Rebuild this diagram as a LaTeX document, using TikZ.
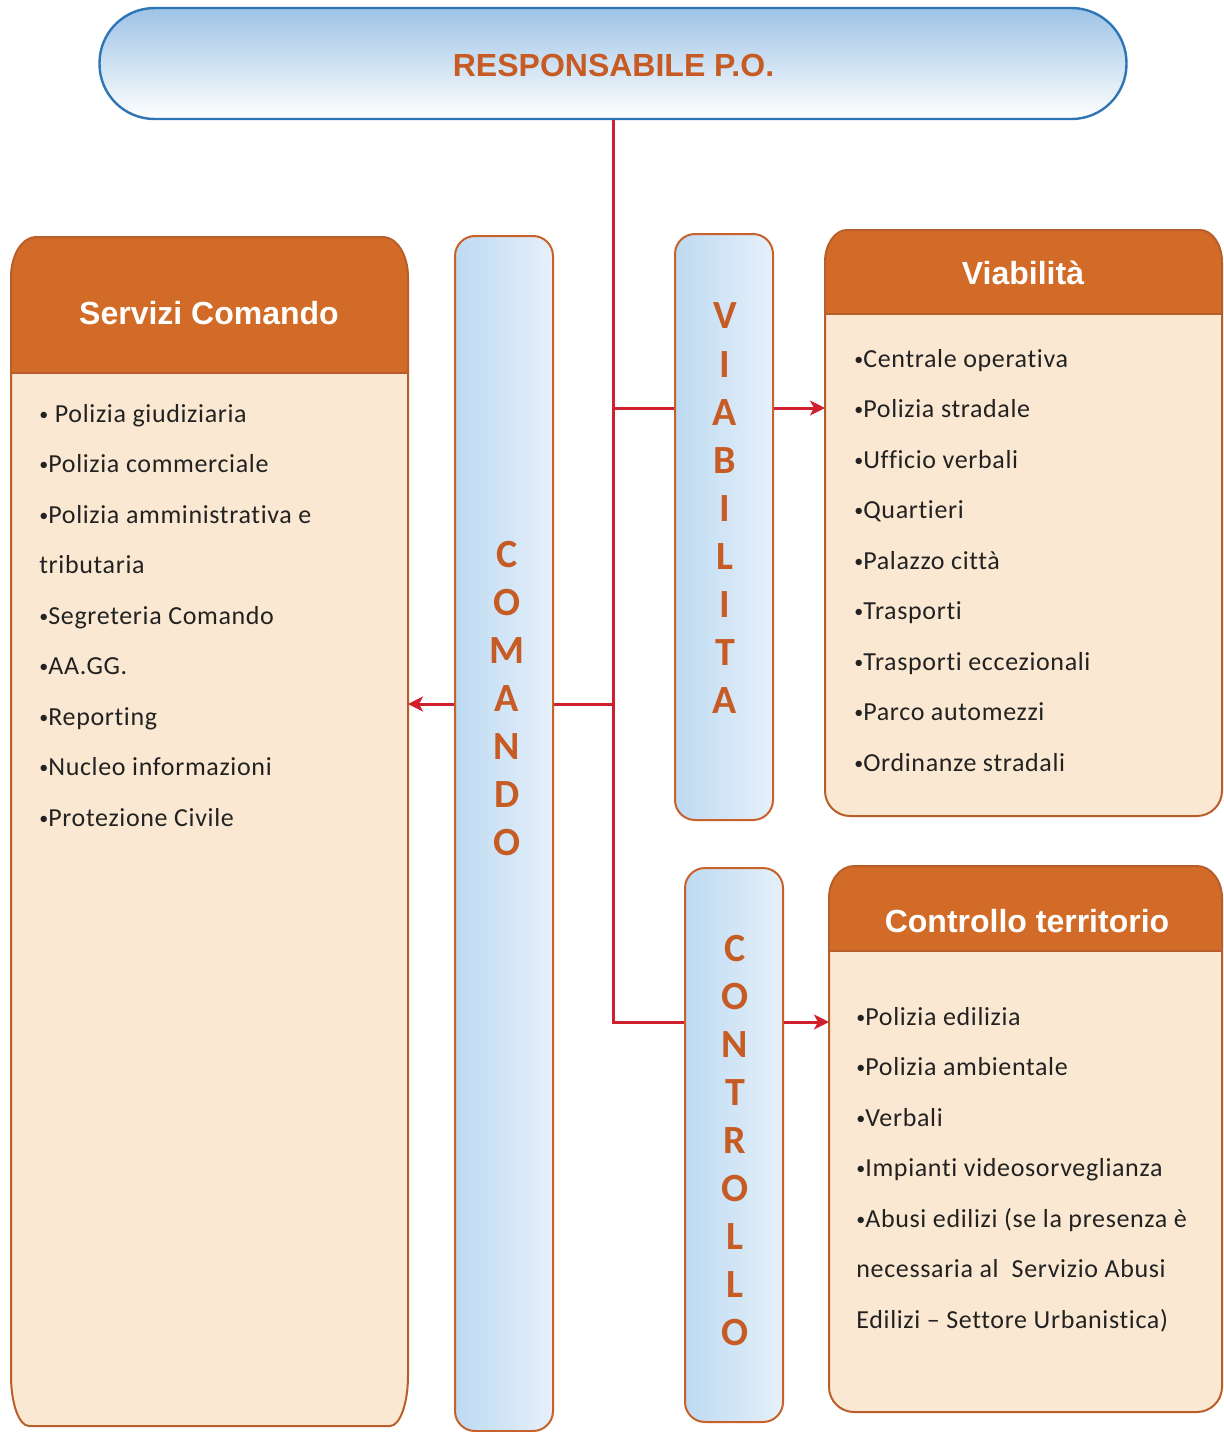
\documentclass[tikz,border=0pt]{standalone}
\usepackage{fontspec}
\setmainfont{Carlito}[LetterSpace=2.5,Ligatures=NoCommon]
\newfontfamily\headfont{Liberation Sans}
\usetikzlibrary{arrows.meta}

\definecolor{topblue}{HTML}{9DC3E6}
\definecolor{topedge}{HTML}{2E75B6}
\definecolor{accent}{HTML}{C65B24}
\definecolor{headfill}{HTML}{D26B27}
\definecolor{paneledgecol}{HTML}{B85E2A}
\definecolor{bodyfill}{HTML}{FBE8D2}
\definecolor{barleft}{HTML}{BDDAF2}
\definecolor{barright}{HTML}{E6F0FA}
\definecolor{baredge}{HTML}{C8622A}
\definecolor{linkred}{HTML}{D0202E}
\definecolor{itemtext}{HTML}{222222}

% small list bullet
\newcommand\bul{\raisebox{1.0pt}{\fontsize{9}{9}\selectfont •}}

% Panel with elliptical top corners, a coloured header band and a light body.
% #1 left, #2 right, #3 top, #4 header bottom, #5 bottom,
% #6/#7 top corner radii (x/y), #8/#9 bottom corner radii (x/y)
\newcommand\drawpanel[9]{%
  \def\panelpath{(#1,#3+#7) .. controls (#1,#3+0.45*#7) and (#1+0.45*#6,#3) .. (#1+#6,#3)
    -- (#2-#6,#3) .. controls (#2-0.45*#6,#3) and (#2,#3+0.45*#7) .. (#2,#3+#7)
    -- (#2,#5-#9) .. controls (#2,#5-0.45*#9) and (#2-0.45*#8,#5) .. (#2-#8,#5)
    -- (#1+#8,#5) .. controls (#1+0.45*#8,#5) and (#1,#5-0.45*#9) .. (#1,#5-#9) -- cycle}%
  \fill[bodyfill] \panelpath;
  \begin{scope}
    \clip \panelpath;
    \fill[headfill] (#1-5,#3-5) rectangle (#2+5,#4);
  \end{scope}
  \draw[paneledge] (#1,#4) -- (#2,#4);
  \draw[paneledge] \panelpath;
}

\begin{document}
\begin{tikzpicture}[x=0.5pt,y=-0.5pt,
  paneledge/.style={draw=paneledgecol,line width=1pt},
  topbox/.style={draw=topedge,line width=1.2pt,rounded corners=27.5pt,
    top color=topblue,bottom color=white,minimum width=513.5pt,minimum height=55.5pt},
  toplabel/.style={font=\headfont\bfseries\fontsize{16}{19}\selectfont,text=accent,inner sep=0pt},
  bar/.style={draw=baredge,line width=1pt,rounded corners=10pt,
    left color=barleft,right color=barright,minimum width=49pt,inner sep=0pt},
  letter/.style={font=\bfseries\fontsize{20}{24}\selectfont,text=accent,inner sep=0pt},
  title/.style={font=\headfont\bfseries\fontsize{16}{19}\selectfont,text=white,inner sep=0pt},
  item/.style={anchor=base west,font=\fontsize{13}{15}\selectfont,text=itemtext,inner sep=0pt},
  link/.style={draw=linkred,line width=1.5pt},
  tip/.style={-{Stealth[length=7.5pt,width=7.5pt,inset=2pt]}}]
\useasboundingbox (0,0) rectangle (1224,1432);

% head node
\node[topbox] (resp) at (613,63.5) {};
\node[toplabel] (respT) at (613.5,65) {RESPONSABILE P.O.};

% panels
\drawpanel{11}{408}{237}{373}{1426}{25}{40}{18}{50}
\drawpanel{825}{1222}{230}{314}{816}{22}{32}{25}{25}
\drawpanel{829}{1222}{866}{951}{1412}{25}{32}{25}{25}

\node[title] (tS) at (209,313) {Servizi Comando};
\node[title] (tV) at (1023,273) {Viabilità};
\node[title] (tC) at (1027,921) {Controllo territorio};

% anchor points on the panel edges
\coordinate (sIn) at (408,704);
\coordinate (vIn) at (825,408);
\coordinate (cIn) at (829,1022);

% vertical bars
\node[bar,minimum height=597.5pt] (cmd) at (504,833.5) {};
\node[bar,minimum height=293pt] (via) at (724,527) {};
\node[bar,minimum height=277pt] (ctl) at (734,1145) {};

\foreach \ch [count=\i from 0] in {C,O,M,A,N,D,O}
  \node[letter] (lc\i) at (507,555+48*\i) {\ch};
\foreach \ch [count=\i from 0] in {V,I,A,B,I,L,I,T,A}
  \node[letter] (lv\i) at (725,316+48.1*\i) {\ch};
\foreach \ch [count=\i from 0] in {C,O,N,T,R,O,L,L,O}
  \node[letter] (lt\i) at (735,949+48*\i) {\ch};

% connectors
\coordinate (jV) at (resp.south |- vIn);
\coordinate (jC) at (resp.south |- sIn);
\coordinate (jT) at (resp.south |- cIn);
\draw[link] (resp.south) -- (jT) -- (ctl.west |- jT);
\draw[link] (jV) -- (via.west |- jV);
\draw[link] (jC) -- (cmd.east |- jC);
\draw[link,tip] (via.east |- jV) -- (vIn);
\draw[link,tip] (cmd.west |- jC) -- (sIn);
\draw[link,tip] (ctl.east |- jT) -- (cIn);

% panel contents (baselines)
\foreach \t [count=\i from 0] in {{\bul\ Polizia giudiziaria},{\bul Polizia commerciale},
    {\bul Polizia amministrativa e},{tributaria},{\bul Segreteria Comando},{\bul AA.GG.},
    {\bul Reporting},{\bul Nucleo informazioni},{\bul Protezione Civile}}
  \node[item] (s\i) at (39,422+50.5*\i) {\t};
\foreach \t [count=\i from 0] in {{\bul Centrale operativa},{\bul Polizia stradale},
    {\bul Ufficio verbali},{\bul Quartieri},{\bul Palazzo città},{\bul Trasporti},
    {\bul Trasporti eccezionali},{\bul Parco automezzi},{\bul Ordinanze stradali}}
  \node[item] (v\i) at (854,367+50.5*\i) {\t};
\foreach \t [count=\i from 0] in {{\bul Polizia edilizia},{\bul Polizia ambientale},
    {\bul Verbali},{\bul Impianti videosorveglianza},{\bul Abusi edilizi (se la presenza è},
    {necessaria al\ \ Servizio Abusi},{Edilizi – Settore Urbanistica)}}
  \node[item] (c\i) at (856,1025+50.5*\i) {\t};
\end{tikzpicture}
\end{document}
